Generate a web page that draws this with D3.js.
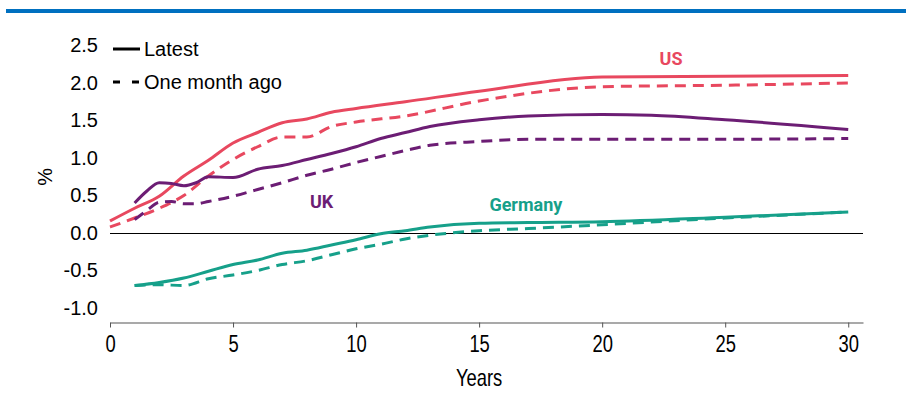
<!DOCTYPE html>
<html>
<head>
<meta charset="utf-8">
<script src="https://cdn.jsdelivr.net/npm/d3@7/dist/d3.min.js"></script>
<style>
  html, body { margin: 0; padding: 0; background: #fff; }
  svg { display: block; }
</style>
</head>
<body>
<svg id="chart" width="906" height="412"></svg>
<script>
// Government bond yield curves: latest vs one month ago (maturity in years, yield in %)
const usTenors = [0, 1, 2, 3, 4, 5, 6, 7, 8, 9, 10, 12, 15, 20, 25, 30];
const usLatest = [0.16, 0.33, 0.49, 0.76, 0.97, 1.2, 1.34, 1.47, 1.52, 1.61, 1.66, 1.75, 1.89, 2.08, 2.09, 2.1];
const usMonthAgo = [0.08, 0.2, 0.33, 0.5, 0.76, 0.98, 1.15, 1.28, 1.28, 1.42, 1.48, 1.56, 1.76, 1.95, 1.97, 2.0];

const ukTenors = [1, 1.5, 2, 2.5, 3, 3.5, 4, 5, 6, 7, 8, 9, 10, 11, 12, 13, 15, 17, 20, 22, 25, 30];
const ukLatest = [0.40, 0.56, 0.67, 0.66, 0.63, 0.67, 0.75, 0.74, 0.85, 0.90, 0.98, 1.06, 1.15, 1.26, 1.34, 1.42, 1.51, 1.56, 1.58, 1.57, 1.51, 1.38];
const ukMonthAgo = [0.18, 0.30, 0.41, 0.42, 0.39, 0.39, 0.42, 0.49, 0.58, 0.67, 0.77, 0.85, 0.94, 1.02, 1.10, 1.17, 1.22, 1.25, 1.25, 1.25, 1.25, 1.26];

const deTenors = [1, 2, 3, 4, 5, 6, 7, 8, 9, 10, 11, 12, 13, 15, 17, 20, 25, 30];
const deLatest = [-0.70, -0.66, -0.60, -0.51, -0.42, -0.36, -0.27, -0.23, -0.16, -0.09, -0.01, 0.03, 0.08, 0.13, 0.14, 0.15, 0.21, 0.28];
const deMonthAgo = [-0.70, -0.69, -0.70, -0.61, -0.56, -0.50, -0.42, -0.37, -0.29, -0.21, -0.15, -0.08, -0.03, 0.03, 0.06, 0.11, 0.20, 0.28];

const xTicks = [0, 5, 10, 15, 20, 25, 30];
const yTicks = [-1.0, -0.5, 0.0, 0.5, 1.0, 1.5, 2.0, 2.5];
const legendLabels = ["Latest", "One month ago"];

const colors = { US: "#e8485f", UK: "#6c1d74", DE: "#16a08a" };

const svg = d3.select("#chart");

// Header rule
svg.append("rect").attr("x", 6).attr("y", 9).attr("width", 900).attr("height", 4).attr("fill", "#0070c0");

const x = d3.scaleLinear().domain([0, 30.6]).range([110, 863]);
const y = d3.scaleLinear().domain([-1.2, 2.5]).range([323, 45.5]);

// Y tick labels (no axis line)
const yAxis = d3.axisLeft(y).tickValues(yTicks).tickSize(0).tickPadding(0)
  .tickFormat(d => d < 0 ? "-" + Math.abs(d).toFixed(1) : d.toFixed(1));
const gy = svg.append("g").attr("transform", "translate(98,0)").call(yAxis);
gy.select(".domain").remove();
gy.selectAll("text")
  .attr("font-family", "'Liberation Sans', Arial, sans-serif")
  .attr("font-size", 20)
  .attr("fill", "#000");

// X axis with condensed labels
const xAxis = d3.axisBottom(x).tickValues(xTicks).tickSize(5).tickPadding(8).tickSizeOuter(0);
const gx = svg.append("g").attr("transform", `translate(0,${y(-1.2) - 0.5})`).call(xAxis);
gx.select(".domain").attr("stroke", "#8c8c8c").attr("stroke-width", 1.5);
gx.selectAll(".tick line").attr("stroke", "#555");
gx.selectAll("text")
  .attr("font-family", "'Liberation Sans', Arial, sans-serif")
  .attr("font-size", 23)
  .attr("fill", "#000")
  .attr("transform", "scale(0.8,1)");

// Zero line
svg.append("line")
  .attr("x1", x(0)).attr("x2", x(30.6))
  .attr("y1", y(0) + 0.5).attr("y2", y(0) + 0.5)
  .attr("stroke", "#000").attr("stroke-width", 1);

// Axis titles
svg.append("text")
  .attr("transform", `translate(${x(15)},386) scale(0.8,1)`)
  .attr("text-anchor", "middle")
  .attr("font-family", "'Liberation Sans', Arial, sans-serif")
  .attr("font-size", 23)
  .text("Years");

svg.append("text")
  .attr("transform", `translate(52,${y(0.75)}) rotate(-90)`)
  .attr("text-anchor", "middle")
  .attr("font-family", "'Liberation Sans', Arial, sans-serif")
  .attr("font-size", 20)
  .text("%");

// Curves
const line = d3.line()
  .x(d => x(d[0]))
  .y(d => y(d[1]))
  .curve(d3.curveMonotoneX);

const series = [
  { tenors: usTenors, values: usMonthAgo, color: colors.US, dashed: true },
  { tenors: ukTenors, values: ukMonthAgo, color: colors.UK, dashed: true },
  { tenors: deTenors, values: deMonthAgo, color: colors.DE, dashed: true },
  { tenors: usTenors, values: usLatest, color: colors.US, dashed: false },
  { tenors: ukTenors, values: ukLatest, color: colors.UK, dashed: false },
  { tenors: deTenors, values: deLatest, color: colors.DE, dashed: false }
];

svg.append("g").selectAll("path")
  .data(series)
  .join("path")
  .attr("d", s => line(d3.zip(s.tenors, s.values)))
  .attr("fill", "none")
  .attr("stroke", s => s.color)
  .attr("stroke-width", 3)
  .attr("stroke-dasharray", s => s.dashed ? "11,7" : null);

// Series labels
const labelFont = "Roboto, 'Liberation Sans', sans-serif";
[
  { text: "US", t: 22.8, v: 2.24, color: colors.US },
  { text: "UK", t: 8.6, v: 0.34, color: colors.UK },
  { text: "Germany", t: 16.9, v: 0.3, color: colors.DE }
].forEach(l => {
  svg.append("text")
    .attr("x", x(l.t)).attr("y", y(l.v))
    .attr("text-anchor", "middle")
    .attr("font-family", labelFont)
    .attr("font-weight", "bold")
    .attr("font-size", 18)
    .attr("fill", l.color)
    .text(l.text);
});

// Legend
const legend = svg.append("g");
legendLabels.forEach((label, i) => {
  const ly = 49 + i * 33;
  legend.append("line")
    .attr("x1", 113).attr("x2", 140)
    .attr("y1", ly).attr("y2", ly)
    .attr("stroke", "#000").attr("stroke-width", 3)
    .attr("stroke-dasharray", i === 1 ? "7,12" : null);
  legend.append("text")
    .attr("x", 144).attr("y", ly + 7)
    .attr("font-family", "'Liberation Sans', Arial, sans-serif")
    .attr("font-size", 20)
    .text(label);
});
</script>
</body>
</html>
